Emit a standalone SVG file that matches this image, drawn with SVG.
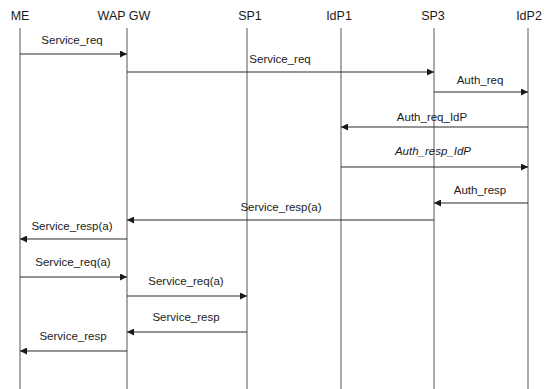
<svg xmlns="http://www.w3.org/2000/svg" width="550" height="389" viewBox="0 0 550 389">
<style>
.hdr{font-family:"Liberation Sans",Arial,sans-serif;font-size:12.5px;fill:#1a1a1a;text-anchor:middle}
.lbl{font-family:"Liberation Sans",Arial,sans-serif;font-size:11.5px;fill:#1a1a1a;text-anchor:middle}
.it{font-style:italic}
.life{stroke:#666;stroke-width:1.1;fill:none}
.msg{stroke:#2a2a2a;stroke-width:1.1;fill:none;marker-end:url(#ah)}
</style>
<defs>
<marker id="ah" viewBox="0 0 10 10" refX="10" refY="5" markerWidth="8" markerHeight="7" markerUnits="userSpaceOnUse" orient="auto">
<path d="M0,0 L10,5 L0,10 z" fill="#1a1a1a"/>
</marker>
</defs>
<rect width="550" height="389" fill="#fff"/>
<g id="ME"><text class="hdr" x="20" y="20">ME</text><line class="life" x1="20" y1="28" x2="20" y2="389"/></g>
<g id="WAPGW"><text class="hdr" x="124" y="20">WAP GW</text><line class="life" x1="127" y1="28" x2="127" y2="389"/></g>
<g id="SP1"><text class="hdr" x="250" y="20">SP1</text><line class="life" x1="247" y1="28" x2="247" y2="389"/></g>
<g id="IdP1"><text class="hdr" x="339" y="20">IdP1</text><line class="life" x1="341" y1="28" x2="341" y2="389"/></g>
<g id="SP3"><text class="hdr" x="433" y="20">SP3</text><line class="life" x1="434" y1="28" x2="434" y2="389"/></g>
<g id="IdP2"><text class="hdr" x="529" y="20">IdP2</text><line class="life" x1="528" y1="28" x2="528" y2="389"/></g>
<g id="connectors">
<line class="msg" x1="20" y1="54" x2="127" y2="54"/>
<line class="msg" x1="127" y1="72" x2="434" y2="72"/>
<line class="msg" x1="434" y1="92" x2="528" y2="92"/>
<line class="msg" x1="528" y1="127" x2="341" y2="127"/>
<line class="msg" x1="341" y1="167" x2="528" y2="167"/>
<line class="msg" x1="528" y1="203" x2="434" y2="203"/>
<line class="msg" x1="434" y1="220" x2="127" y2="220"/>
<line class="msg" x1="127" y1="239" x2="20" y2="239"/>
<line class="msg" x1="20" y1="277" x2="127" y2="277"/>
<line class="msg" x1="127" y1="296" x2="247" y2="296"/>
<line class="msg" x1="247" y1="332" x2="127" y2="332"/>
<line class="msg" x1="127" y1="351" x2="20" y2="351"/>
</g>
<g id="labels">
<text class="lbl" x="72" y="44">Service_req</text>
<text class="lbl" x="280" y="63">Service_req</text>
<text class="lbl" x="480" y="84">Auth_req</text>
<text class="lbl" x="432" y="121">Auth_req_IdP</text>
<text class="lbl it" x="433" y="155">Auth_resp_IdP</text>
<text class="lbl" x="480" y="194">Auth_resp</text>
<text class="lbl" x="281" y="211">Service_resp(a)</text>
<text class="lbl" x="72" y="230">Service_resp(a)</text>
<text class="lbl" x="73" y="266">Service_req(a)</text>
<text class="lbl" x="186" y="285">Service_req(a)</text>
<text class="lbl" x="186" y="321">Service_resp</text>
<text class="lbl" x="73" y="340">Service_resp</text>
</g>
</svg>
